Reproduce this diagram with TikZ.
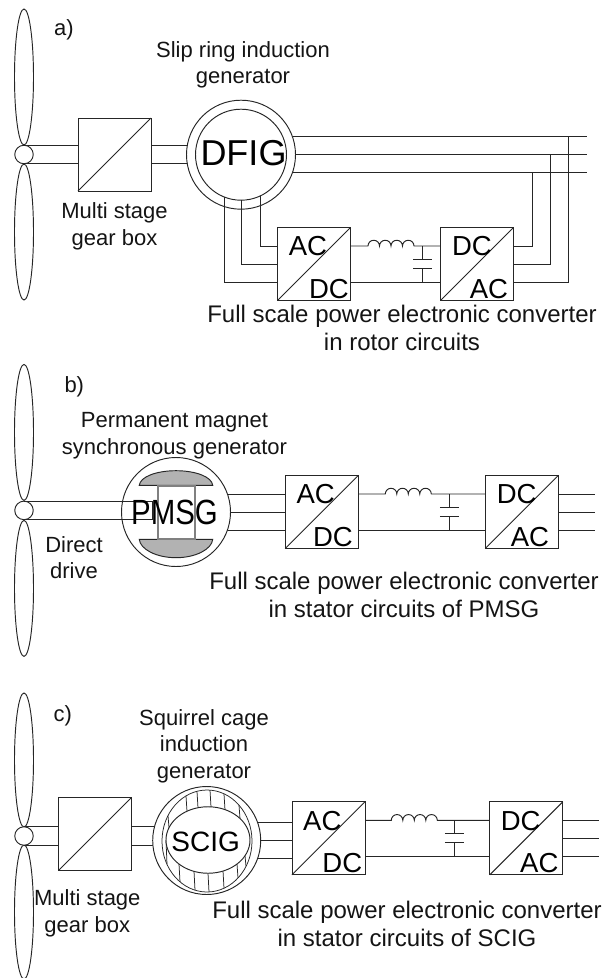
\documentclass[tikz,border=0pt]{standalone}
\usepackage{fontspec}
\setmainfont{Liberation Sans}
\usetikzlibrary{calc,shapes.geometric}
\tikzset{
  wire/.style={draw=black!85,line width=.95pt},
  blade/.style={wire,ellipse,inner sep=0pt,outer sep=0pt,minimum width=19pt},
  hubnode/.style={wire,circle,fill=white,inner sep=0pt,outer sep=0pt,minimum size=18.5pt},
  gearbox/.style={wire,rectangle,fill=white,inner sep=0pt,outer sep=0pt,minimum size=73pt},
  ring/.style={wire,circle,fill=white,inner sep=0pt,outer sep=0pt},
  lbl/.style={font=\fontsize{22}{26.5}\selectfont,align=center,inner sep=0pt,text=black!92},
  caplbl/.style={font=\fontsize{24}{28}\selectfont,align=center,inner sep=0pt,text=black!92},
  convlbl/.style={font=\fontsize{27.5}{30}\selectfont,inner sep=0pt,text=black},
}
% turbine: prefix, hub y, blade offset, blade length
\newcommand{\turbine}[4]{%
  \node[blade,minimum height=#4pt] (#1-up) at (24,#2-#3) {};
  \node[blade,minimum height=#4pt] (#1-dn) at (24,#2+#3) {};
  \node[hubnode] (#1-hub) at (24,#2) {};
}
% converter pair: prefix, x1, x2, y centre, inductor start x, capacitor x
\newcommand{\converters}[6]{%
  \node[gearbox] (#1-c1) at (#2,#4) {};
  \node[gearbox] (#1-c2) at (#3,#4) {};
  \draw[wire] (#1-c1.south west) -- (#1-c1.north east);
  \draw[wire] (#1-c2.south west) -- (#1-c2.north east);
  \coordinate (#1-ls) at (#5,#4-18);
  \coordinate (#1-cap) at (#6,#4-18);
  \coordinate (#1-capb) at (#6,#4+18);
  \coordinate (#1-p1) at (#6,#4-4.6);
  \coordinate (#1-p2) at (#6,#4+4.6);
  \draw[wire] ($(#1-c1.east)+(0,-18)$) -- (#1-ls)
     arc[start angle=180,end angle=0,radius=5.75pt]
     arc[start angle=180,end angle=0,radius=5.75pt]
     arc[start angle=180,end angle=0,radius=5.75pt]
     arc[start angle=180,end angle=0,radius=5.75pt]
     -- ($(#1-c2.west)+(0,-18)$);
  \draw[wire] ($(#1-c1.east)+(0,18)$) -- ($(#1-c2.west)+(0,18)$);
  \draw[wire] (#1-cap) -- (#1-p1) ($(#1-p1)+(-9.5,0)$) -- ($(#1-p1)+(9.5,0)$);
  \draw[wire] (#1-capb) -- (#1-p2) ($(#1-p2)+(-9.5,0)$) -- ($(#1-p2)+(9.5,0)$);
}
\begin{document}
\begin{tikzpicture}[x=1pt,y=-1pt]
\useasboundingbox (0,0) rectangle (611,978);

% ---------- a ----------
\turbine{a}{154.5}{77.5}{136}
\node[gearbox] (a-gear) at (114.5,154.5) {};
\draw[wire] (a-gear.south west) -- (a-gear.north east);
\coordinate (a-g) at (241,154.7);
\draw[wire] (a-hub.north) -- (a-hub.north -| a-gear.west);
\draw[wire] (a-hub.south) -- (a-hub.south -| a-gear.west);
\draw[wire] (a-hub.north -| a-gear.east) -- (a-hub.north -| a-g);
\draw[wire] (a-hub.south -| a-gear.east) -- (a-hub.south -| a-g);
\coordinate (a-e1) at (587,136);
\coordinate (a-e2) at (587,154.7);
\coordinate (a-e3) at (587,172.7);
\draw[wire] (a-g |- a-e1) -- (a-e1);
\draw[wire] (a-g |- a-e2) -- (a-e2);
\draw[wire] (a-g |- a-e3) -- (a-e3);
\node[ring,minimum size=109pt] (a-gen) at (a-g) {};
\node[ring,minimum size=91pt] (a-rot) at (a-g) {};
\converters{a}{314}{477}{264}{368}{422.7}
\coordinate (a-t1) at (224,197);
\coordinate (a-t2) at (241.7,200);
\coordinate (a-t3) at (260,196.3);
\draw[wire] ($(a-c1.west)+(0,18)$) -| (a-t1);
\draw[wire] (a-c1.west) -| (a-t2);
\draw[wire] ($(a-c1.west)+(0,-18)$) -| (a-t3);
\draw[wire] ($(a-c2.east)+(0,-18)$) -| (532,172.7);
\draw[wire] (a-c2.east) -| (550,154.7);
\draw[wire] ($(a-c2.east)+(0,18)$) -| (568,136);
\node[lbl,anchor=base west] (a-tag) at (54,35) {a)};
\node[lbl] (a-title) at (243,65) {Slip ring induction\\generator};
\node[lbl] (a-gearl) at (114.5,226.5) {Multi stage\\gear box};
\node[font=\fontsize{36}{36}\selectfont,inner sep=0pt] (a-name) at (243.5,153.5) {DFIG};
\node[convlbl] (a-l1) at (308,246) {AC};
\node[convlbl] (a-l2) at (329,289) {DC};
\node[convlbl] (a-l3) at (472,246) {DC};
\node[convlbl] (a-l4) at (489,289) {AC};
\node[caplbl] (a-cap) at (402,328) {Full scale power electronic converter\\in rotor circuits};

% ---------- b ----------
\turbine{b}{510.4}{78}{136}
\coordinate (b-g) at (176,512);
\coordinate (b-e1) at (285,494);
\coordinate (b-e2) at (285,512);
\coordinate (b-e3) at (285,530);
\draw[wire] (b-g |- b-e1) -- (b-e1);
\draw[wire] (b-g |- b-e2) -- (b-e2);
\draw[wire] (b-g |- b-e3) -- (b-e3);
\node[ring,minimum size=109pt] (b-gen) at (b-g) {};
\draw[wire,fill=white!70!black] (139.3,485.3) .. controls (140,477) and (156,470.7) .. (176,470.7) .. controls (196,470.7) and (212,477) .. (212.7,485.3) -- cycle;
\draw[wire,fill=white!70!black] (139.3,539.3) .. controls (140,549) and (156,557.7) .. (176,557.7) .. controls (196,557.7) and (212,549) .. (212.7,539.3) -- cycle;
\draw[draw=black!50,line width=2pt,fill=white] (157.7,485.5) rectangle (195,539);
\coordinate (b-s) at (152,510.4);
\draw[wire] (b-hub.north) -- (b-hub.north -| b-s) -- (b-hub.south -| b-s) -- (b-hub.south);
\node[font=\fontsize{35}{35}\selectfont,inner sep=0pt,xscale=.84,transform shape] (b-name) at (174.5,512.5) {PMSG};
\converters{b}{321.7}{521.8}{512}{385.3}{449.3}
\coordinate (b-r1) at (595,494);
\coordinate (b-r2) at (595,512);
\coordinate (b-r3) at (595,530);
\draw[wire] (b-c2.east |- b-r1) -- (b-r1);
\draw[wire] (b-c2.east |- b-r2) -- (b-r2);
\draw[wire] (b-c2.east |- b-r3) -- (b-r3);
\node[lbl,anchor=base west] (b-tag) at (64.3,392.7) {b)};
\node[lbl] (b-title) at (174.5,435.5) {Permanent magnet\\synchronous generator};
\node[lbl] (b-dd) at (74,557.5) {Direct\\drive};
\node[convlbl] (b-l1) at (315.7,494) {AC};
\node[convlbl] (b-l2) at (333,537) {DC};
\node[convlbl] (b-l3) at (516.7,494) {DC};
\node[convlbl] (b-l4) at (530,537) {AC};
\node[caplbl] (b-cap) at (404,595) {Full scale power electronic converter\\in stator circuits of PMSG};

% ---------- c ----------
\turbine{c}{836}{76}{134}
\node[gearbox] (c-gear) at (95,834) {};
\draw[wire] (c-gear.south west) -- (c-gear.north east);
\coordinate (c-g) at (206.7,840.5);
\draw[wire] (c-hub.north) -- (c-hub.north -| c-gear.west);
\draw[wire] (c-hub.south) -- (c-hub.south -| c-gear.west);
\draw[wire] (c-hub.north -| c-gear.east) -- (c-hub.north -| c-g);
\draw[wire] (c-hub.south -| c-gear.east) -- (c-hub.south -| c-g);
\coordinate (c-e1) at (292.3,822.3);
\coordinate (c-e2) at (292.3,840.3);
\coordinate (c-e3) at (292.3,858.3);
\draw[wire] (c-g |- c-e1) -- (c-e1);
\draw[wire] (c-g |- c-e2) -- (c-e2);
\draw[wire] (c-g |- c-e3) -- (c-e3);
\node[ring,minimum size=108pt] (c-gen) at (c-g) {};
\draw[line width=.75pt,draw=black!85] (207,841) ellipse [x radius=45,y radius=51];
\foreach \px in {168,186,197,210,224,239} {
  \pgfmathsetmacro{\yo}{841-51*sqrt(1-((\px-207)/45)^2)}
  \pgfmathsetmacro{\yi}{840-33*sqrt(1-((\px+1-208)/42)^2)}
  \draw[line width=.75pt,draw=black!85] (\px,\yo) -- (\px+1,\yi);
}
\foreach \px in {167,180,195,209,224,238,246} {
  \pgfmathsetmacro{\yo}{841+51*sqrt(1-((\px-207)/45)^2)}
  \pgfmathsetmacro{\yi}{840+33*sqrt(1-((\px-1-208)/42)^2)}
  \draw[line width=.75pt,draw=black!85] (\px,\yo) -- (\px-1,\yi);
}
\node[wire,ellipse,fill=white,inner sep=0pt,minimum width=84pt,minimum height=66.5pt] (c-rot) at (208,840) {};
\node[font=\fontsize{28}{28}\selectfont,inner sep=0pt] (c-name) at (205.7,841.7) {SCIG};
\converters{c}{328.5}{526.3}{838.3}{391.3}{454.3}
\coordinate (c-r1) at (599,820.3);
\coordinate (c-r2) at (599,838.3);
\coordinate (c-r3) at (599,856.3);
\draw[wire] (c-c2.east |- c-r1) -- (c-r1);
\draw[wire] (c-c2.east |- c-r2) -- (c-r2);
\draw[wire] (c-c2.east |- c-r3) -- (c-r3);
\node[lbl,anchor=base west] (c-tag) at (53.3,721) {c)};
\node[lbl] (c-title) at (204,746) {Squirrel cage\\induction\\generator};
\node[lbl] (c-gearl) at (87.3,913.5) {Multi stage\\gear box};
\node[convlbl] (c-l1) at (322.3,820.7) {AC};
\node[convlbl] (c-l2) at (342.3,862.7) {DC};
\node[convlbl] (c-l3) at (520.7,820.7) {DC};
\node[convlbl] (c-l4) at (539.3,862.7) {AC};
\node[caplbl] (c-cap) at (407,924) {Full scale power electronic converter\\in stator circuits of SCIG};
\end{tikzpicture}
\end{document}
